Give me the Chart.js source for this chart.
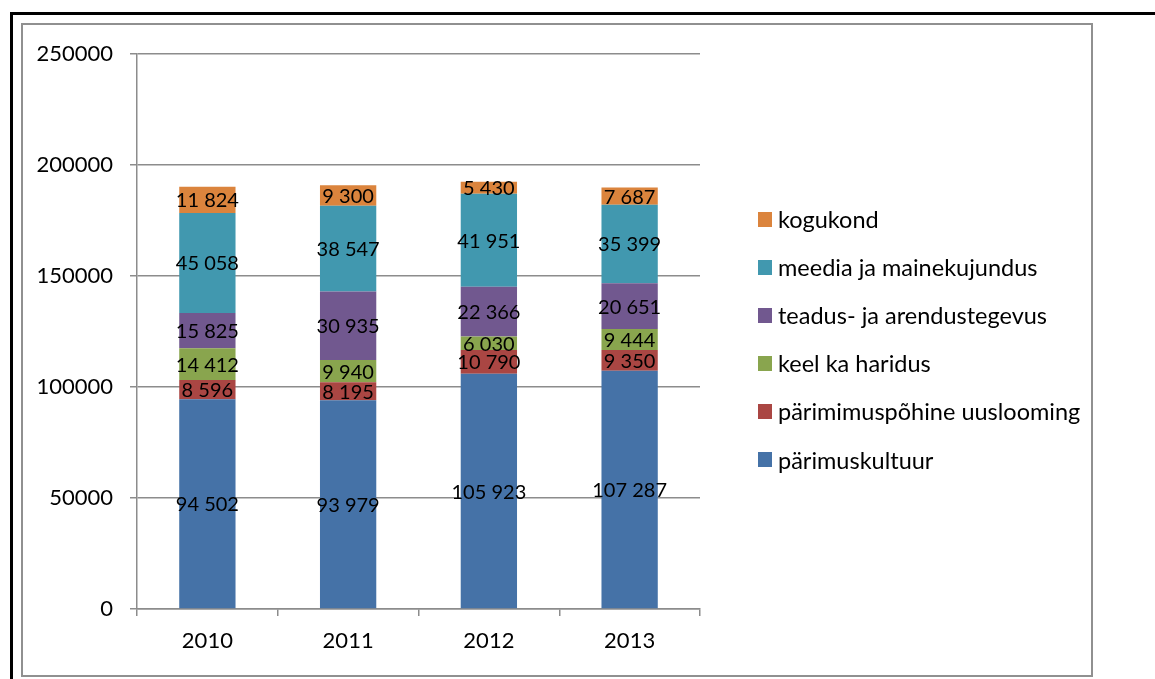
<!DOCTYPE html>
<html>
<head>
<meta charset="utf-8">
<script src="https://cdn.jsdelivr.net/npm/chart.js@4.4.0/dist/chart.umd.min.js"></script>
<style>
  html, body { margin: 0; padding: 0; background: #fff; }
  body { width: 1155px; height: 679px; position: relative; overflow: hidden; font-family: Lato, "Liberation Sans", sans-serif; }
  #outer { position: absolute; left: 10px; top: 12px; width: 1300px; height: 800px; border: 3px solid #000; box-sizing: border-box; }
  #frame { position: absolute; left: 21px; top: 23px; width: 1072px; height: 654px; border: 2px solid #909090; box-sizing: border-box; }
  #wrap { position: absolute; left: 0; top: 0; width: 1155px; height: 679px; }
  #legend { position: absolute; left: 758px; top: 195px; }
  .row { height: 48.1px; display: flex; align-items: center; font-size: 23.5px; color: #000; white-space: nowrap; }
  .sw { width: 14px; height: 15px; margin-right: 6px; flex: none; }
</style>
</head>
<body>
<div id="outer"></div>
<div id="frame"></div>
<div id="wrap"><canvas id="c" width="1155" height="679"></canvas></div>
<div id="legend"></div>
<script>
const categories = ["2010", "2011", "2012", "2013"];
const seriesNames = ["pärimuskultuur", "pärimimuspõhine uuslooming", "keel ka haridus", "teadus- ja arendustegevus", "meedia ja mainekujundus", "kogukond"];
const parimuskultuur = [94502, 93979, 105923, 107287];
const uuslooming = [8596, 8195, 10790, 9350];
const keelHaridus = [14412, 9940, 6030, 9444];
const teadus = [15825, 30935, 22366, 20651];
const meedia = [45058, 38547, 41951, 35399];
const kogukond = [11824, 9300, 5430, 7687];
const seriesValues = [parimuskultuur, uuslooming, keelHaridus, teadus, meedia, kogukond];
const colors = ["#4572A7", "#AA4643", "#89A54E", "#71588F", "#4198AF", "#DB843D"];
const yTicks = [0, 50000, 100000, 150000, 200000, 250000];

const FONT = "Lato, 'Liberation Sans', sans-serif";

function fmt(v) {
  return String(v).replace(/\B(?=(\d{3})+(?!\d))/g, " ");
}

const labelPlugin = {
  id: "segLabels",
  afterDatasetsDraw(chart) {
    const ctx = chart.ctx;
    ctx.save();
    ctx.font = "20px " + FONT;
    ctx.fillStyle = "#000";
    ctx.textAlign = "center";
    ctx.textBaseline = "middle";
    chart.data.datasets.forEach((ds, i) => {
      const meta = chart.getDatasetMeta(i);
      meta.data.forEach((el, j) => {
        const p = el.getCenterPoint();
        ctx.fillText(fmt(ds.data[j]), p.x, p.y + 1);
      });
    });
    ctx.restore();
  }
};

const datasets = seriesNames.map((name, i) => ({
  label: name,
  data: seriesValues[i],
  backgroundColor: colors[i],
  borderWidth: 0,
  categoryPercentage: 1.0,
  barPercentage: 0.4
}));

new Chart(document.getElementById("c"), {
  type: "bar",
  data: { labels: categories, datasets },
  options: {
    responsive: false,
    animation: false,
    devicePixelRatio: 1,
    layout: { padding: { left: 0, top: 54, right: 455, bottom: 0 } },
    plugins: { legend: { display: false }, tooltip: { enabled: false } },
    scales: {
      x: {
        stacked: true,
        afterFit(s) { s.height = 70; },
        grid: { display: true, drawOnChartArea: false, drawTicks: true, tickLength: 7, color: "#8c8c8c", lineWidth: 1.5 },
        border: { display: true, color: "#8c8c8c", width: 1.5 },
        ticks: { color: "#000", font: { family: FONT, size: 22 }, padding: 12 }
      },
      y: {
        stacked: true,
        min: 0,
        max: 250000,
        afterFit(s) { s.width = 137; },
        afterBuildTicks(s) { s.ticks = yTicks.map(v => ({ value: v })); },
        grid: { color: "#8c8c8c", lineWidth: 1.5, drawTicks: true, tickLength: 7 },
        border: { display: true, color: "#8c8c8c", width: 1.5 },
        ticks: { color: "#000", font: { family: FONT, size: 22 }, padding: 17, callback: v => String(v) }
      }
    }
  },
  plugins: [labelPlugin]
});

const leg = document.getElementById("legend");
for (let i = seriesNames.length - 1; i >= 0; i--) {
  const row = document.createElement("div");
  row.className = "row";
  const sw = document.createElement("span");
  sw.className = "sw";
  sw.style.background = colors[i];
  const t = document.createElement("span");
  t.textContent = seriesNames[i];
  row.appendChild(sw);
  row.appendChild(t);
  leg.appendChild(row);
}
</script>
</body>
</html>
